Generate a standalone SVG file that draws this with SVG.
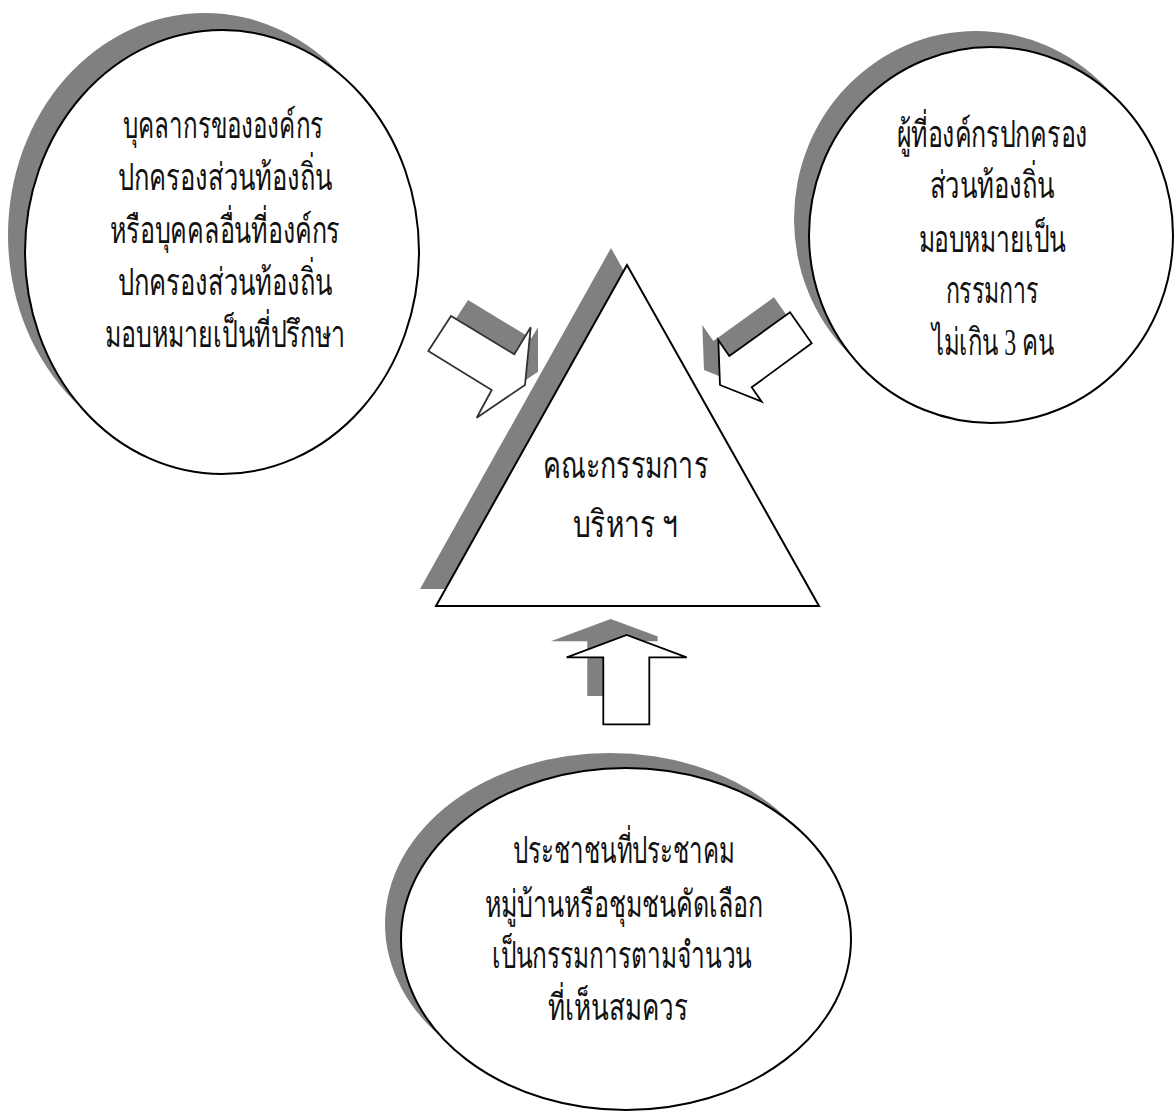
<svg xmlns="http://www.w3.org/2000/svg" width="1176" height="1113" viewBox="0 0 1176 1113">
<style>
.shadow{fill:#808080;stroke:none}
.shape{fill:#ffffff;stroke:#000000;stroke-width:2}
.arrow{fill:#ffffff;stroke:#000000;stroke-width:1.8;stroke-linejoin:miter}
.lbl{font-family:'Liberation Serif','DejaVu Serif',serif;font-size:37px;fill:#111111;text-anchor:middle}
</style>
<defs>
<clipPath id="clipL"><rect x="0" y="0" width="538" height="1113"/></clipPath>
<clipPath id="clipB"><rect x="0" y="0" width="657.7" height="696"/></clipPath>
</defs>
<rect width="1176" height="1113" fill="#ffffff"/>
<g id="node-left">
<ellipse class="shadow" cx="205" cy="235" rx="197" ry="222"/>
<ellipse class="shape" cx="222" cy="252" rx="197" ry="222"/>
<text class="lbl" x="223" y="138" textLength="200" lengthAdjust="spacingAndGlyphs">บุคลากรขององค์กร</text>
<text class="lbl" x="225" y="190" textLength="214" lengthAdjust="spacingAndGlyphs">ปกครองส่วนท้องถิ่น</text>
<text class="lbl" x="225" y="243" textLength="230" lengthAdjust="spacingAndGlyphs">หรือบุคคลอื่นที่องค์กร</text>
<text class="lbl" x="225" y="295" textLength="214" lengthAdjust="spacingAndGlyphs">ปกครองส่วนท้องถิ่น</text>
<text class="lbl" x="225" y="347" textLength="240" lengthAdjust="spacingAndGlyphs">มอบหมายเป็นที่ปรึกษา</text>
</g>
<g id="node-right">
<ellipse class="shadow" cx="976" cy="219" rx="182" ry="188"/>
<ellipse class="shape" cx="991" cy="235" rx="182" ry="188"/>
<text class="lbl" x="992" y="147" textLength="191" lengthAdjust="spacingAndGlyphs">ผู้ที่องค์กรปกครอง</text>
<text class="lbl" x="992" y="198" textLength="125" lengthAdjust="spacingAndGlyphs">ส่วนท้องถิ่น</text>
<text class="lbl" x="992" y="252" textLength="147" lengthAdjust="spacingAndGlyphs">มอบหมายเป็น</text>
<text class="lbl" x="992" y="303" textLength="93" lengthAdjust="spacingAndGlyphs">กรรมการ</text>
<text class="lbl" x="993" y="355" textLength="123" lengthAdjust="spacingAndGlyphs">ไม่เกิน 3 คน</text>
</g>
<g id="node-bottom">
<ellipse class="shadow" cx="610" cy="924" rx="225" ry="171"/>
<ellipse class="shape" cx="626" cy="939" rx="225" ry="171"/>
<text class="lbl" x="624" y="863" textLength="222" lengthAdjust="spacingAndGlyphs">ประชาชนที่ประชาคม</text>
<text class="lbl" x="624" y="917" textLength="278" lengthAdjust="spacingAndGlyphs">หมู่บ้านหรือชุมชนคัดเลือก</text>
<text class="lbl" x="622" y="968" textLength="260" lengthAdjust="spacingAndGlyphs">เป็นกรรมการตามจำนวน</text>
<text class="lbl" x="618" y="1020" textLength="140" lengthAdjust="spacingAndGlyphs">ที่เห็นสมควร</text>
</g>
<g id="node-center">
<polygon class="shadow" points="611,248 420,589 803,589"/>
<polygon class="shape" points="627,265 436,606 819,606"/>
<text class="lbl" x="625.5" y="478" textLength="165" lengthAdjust="spacingAndGlyphs">คณะกรรมการ</text>
<text class="lbl" x="625.5" y="537" textLength="105" lengthAdjust="spacingAndGlyphs">บริหาร ฯ</text>
</g>
<g id="connectors">
<g clip-path="url(#clipL)"><polygon class="shadow" transform="translate(17,-16)" points="428.3,351 451,316 514.3,354.3 530.7,327.3 525,385 476.7,417.7 491.7,390"/></g>
<polygon class="arrow" style="stroke:#333333" points="428.3,351 451,316 514.3,354.3 530.7,327.3 525,385 476.7,417.7 491.7,390"/>
<polygon class="shadow" transform="translate(-16,-15)" points="790,312.3 811.7,343.3 751.7,387.3 761.7,401.7 720,385 718.3,340 729.3,356"/>
<polygon class="arrow" points="790,312.3 811.7,343.3 751.7,387.3 761.7,401.7 720,385 718.3,340 729.3,356"/>
<g clip-path="url(#clipB)"><polygon class="shadow" transform="translate(-16,-16)" points="566.7,657.3 626.7,635 686.7,657.3 649.3,657.3 649.3,724.3 603.3,724.3 603.3,657.3"/></g>
<polygon class="arrow" points="566.7,657.3 626.7,635 686.7,657.3 649.3,657.3 649.3,724.3 603.3,724.3 603.3,657.3"/>
</g>
</svg>
